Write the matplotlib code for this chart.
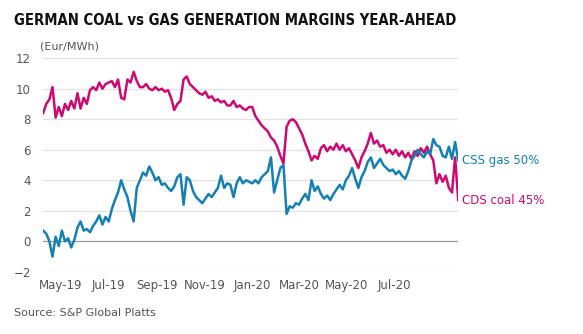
import pandas as pd
import matplotlib
matplotlib.use("Agg")
import matplotlib.pyplot as plt
import matplotlib.dates as mdates
from matplotlib.font_manager import FontProperties, findfont

# year-ahead margins, Eur/MWh (one point every 4 days)
start_date = "2019-04-08"
cds_coal = [8.4, 9.0, 9.3, 10.1, 8.1, 8.8, 8.2, 9.0, 8.6, 9.2,
            8.7, 9.7, 8.7, 9.4, 9.0, 9.9, 10.1, 9.9, 10.4, 10.0,
            10.3, 10.4, 10.5, 10.1, 10.6, 9.4, 9.3, 10.6, 10.4, 11.1,
            10.5, 10.1, 10.1, 10.3, 10.0, 9.9, 10.1, 9.9, 10.0, 9.8,
            9.9, 9.4, 8.6, 9.0, 9.2, 10.6, 10.8, 10.3, 10.1, 9.9,
            9.7, 9.6, 9.8, 9.4, 9.5, 9.2, 9.3, 9.1, 9.2, 8.9,
            8.9, 9.2, 8.8, 8.9, 8.7, 8.6, 8.8, 8.8, 8.2, 7.9,
            7.6, 7.4, 7.2, 6.8, 6.6, 6.2, 5.6, 5.1, 7.5, 7.9,
            8.0, 7.8, 7.4, 7.0, 6.4, 5.9, 5.3, 5.6, 5.4, 6.1,
            6.3, 5.9, 6.2, 6.0, 6.4, 6.0, 6.3, 5.9, 6.1, 5.7,
            5.3, 4.8, 5.5, 5.9, 6.4, 7.1, 6.4, 6.6, 6.2, 6.3,
            5.8, 6.0, 5.7, 6.0, 5.6, 5.9, 5.5, 5.8, 5.4, 5.9,
            5.6, 6.1, 5.8, 6.2, 5.7, 5.3, 3.8, 4.4, 3.9, 4.3,
            3.5, 3.2, 5.5, 2.7]
css_gas = [0.7, 0.5, 0.0, -1.0, 0.3, -0.3, 0.7, 0.0, 0.2, -0.4,
           0.1, 0.9, 1.3, 0.7, 0.8, 0.6, 1.0, 1.3, 1.7, 1.1,
           1.6, 1.3, 2.1, 2.7, 3.2, 4.0, 3.4, 2.9, 2.0, 1.3,
           3.5, 4.0, 4.5, 4.3, 4.9, 4.5, 4.0, 4.2, 3.7, 3.8,
           3.5, 3.3, 3.6, 4.2, 4.4, 2.4, 4.2, 4.0, 3.3, 2.9,
           2.7, 2.5, 2.8, 3.1, 2.9, 3.2, 3.5, 4.3, 3.5, 3.8,
           3.7, 2.9, 3.8, 4.2, 3.8, 4.0, 3.9, 3.8, 4.0, 3.8,
           4.2, 4.4, 4.6, 5.5, 3.2, 4.0, 4.8, 5.0, 1.8, 2.3,
           2.2, 2.5, 2.4, 2.8, 3.1, 2.7, 4.0, 3.3, 3.6, 3.1,
           2.8, 3.0, 2.7, 3.1, 3.4, 3.7, 3.4, 4.0, 4.3, 4.8,
           4.1, 3.5, 4.2, 4.6, 5.2, 5.5, 4.8, 5.1, 5.4, 5.0,
           4.8, 4.6, 4.7, 4.4, 4.6, 4.3, 4.1, 4.6, 5.3, 5.6,
           6.0, 5.7, 5.5, 5.9, 5.7, 6.7, 6.3, 6.2, 5.6, 5.5,
           6.2, 5.4, 6.5, 5.3]
tick_months = ["2019-05-01", "2019-07-01", "2019-09-01", "2019-11-01",
               "2020-01-01", "2020-03-01", "2020-05-01", "2020-07-01"]
yticks = [-2, 0, 2, 4, 6, 8, 10, 12]

dates = pd.date_range(start_date, periods=len(cds_coal), freq="4D")

pink = "#cc0a72"
blue = "#1580b2"
grey = "#555555"

fig = plt.figure(figsize=(5.83, 3.34), dpi=100)
ax = fig.add_axes([0.074, 0.186, 0.712, 0.640])

ax.plot(dates, cds_coal, color=pink, lw=1.8, solid_joinstyle="round")
ax.plot(dates, css_gas, color=blue, lw=1.8, solid_joinstyle="round")

ax.set_xlim(dates[0], dates[-1])
ax.set_ylim(-2, 12)
ax.set_yticks(yticks)
for y in yticks:
    ax.axhline(y, color="#9a9a9a" if y == 0 else "#e2e2e2", lw=0.9, zorder=0)

ax.set_xticks(pd.to_datetime(tick_months))
ax.xaxis.set_major_formatter(mdates.DateFormatter("%b-%y"))
ax.tick_params(length=0, labelsize=8.5, colors=grey, pad=5)
ax.tick_params(axis="y", pad=9)
for s in ax.spines.values():
    s.set_visible(False)

# condensed bold title if a condensed face exists, otherwise a smaller Roboto
cond = FontProperties(family="DejaVu Sans", stretch="condensed", weight="bold")
if "Condensed" in findfont(cond):
    title_font = dict(family="DejaVu Sans", stretch="condensed", fontsize=10.6)
else:
    title_font = dict(family="Roboto", fontsize=11.3)
fig.text(0.024, 0.94, "GERMAN COAL vs GAS GENERATION MARGINS YEAR-AHEAD",
         fontweight="bold", color="#111111", va="center", **title_font)
fig.text(0.069, 0.862, "(Eur/MWh)", fontsize=8, color=grey, va="center")
fig.text(0.024, 0.062, "Source: S&P Global Platts", fontsize=8, color=grey, va="center")

ax.text(1.01, (css_gas[-1] + 2) / 14, "CSS gas 50%", transform=ax.transAxes,
        color=blue, fontsize=8.5, va="center")
ax.text(1.01, (cds_coal[-1] + 2) / 14, "CDS coal 45%", transform=ax.transAxes,
        color=pink, fontsize=8.5, va="center")

fig.savefig("out.png", dpi=100)
